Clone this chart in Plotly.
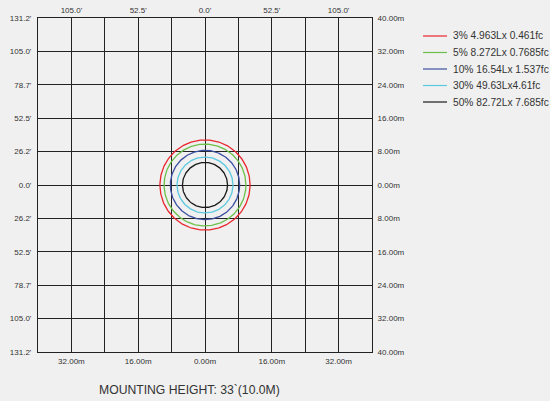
import numpy as np
import plotly.graph_objects as go

# Data
series_names = ["3% 4.963Lx 0.461fc", "5% 8.272Lx 0.7685fc", "10% 16.54Lx 1.537fc",
                "30% 49.63Lx4.61fc", "50% 82.72Lx 7.685fc"]
series_radius_m = [10.8, 9.8, 8.3, 6.7, 5.4]
series_colors = ["#e8262c", "#6cc04a", "#3b4fa0", "#5cc8e0", "#1a1a1a"]

grid_vals = [-40, -32, -24, -16, -8, 0, 8, 16, 24, 32, 40]
x_bottom_text = ["", "32.00m", "", "16.00m", "", "0.00m", "", "16.00m", "", "32.00m", ""]
x_top_text = ["", "105.0'", "", "52.5'", "", "0.0'", "", "52.5'", "", "105.0'", ""]
y_left_text = ["131.2'", "105.0'", "78.7'", "52.5'", "26.2'", "0.0'", "26.2'", "52.5'", "78.7'", "105.0'", "131.2'"]
y_right_text = ["40.00m", "32.00m", "24.00m", "16.00m", "8.00m", "0.00m", "8.00m", "16.00m", "24.00m", "32.00m", "40.00m"]
title_text = "MOUNTING HEIGHT: 33`(10.0M)"

W, H = 550, 401
ML, MR, MT, MB = 38, 178, 18, 49
PW, PH = W - ML - MR, H - MT - MB


def px_x(px):
    return (px - ML) / PW


def px_y(py):
    return (H - MB - py) / PH


fig = go.Figure()
t = np.linspace(0, 2 * np.pi, 241)
for name, r, c in zip(series_names, series_radius_m, series_colors):
    fig.add_trace(go.Scatter(x=r * np.cos(t), y=r * np.sin(t), mode="lines", name=name,
                             line=dict(color=c, width=1.3), hoverinfo="skip", showlegend=False))
# invisible trace to activate secondary axes
fig.add_trace(go.Scatter(x=[0], y=[0], xaxis="x2", yaxis="y2", mode="markers",
                         marker=dict(opacity=0), showlegend=False, hoverinfo="skip"))

# manual legend
shapes, annotations = [], []
row_y0, row_dy = 36, 16.5
for i, (name, c) in enumerate(zip(series_names, series_colors)):
    yy = px_y(row_y0 + i * row_dy)
    shapes.append(dict(type="line", xref="paper", yref="paper", x0=px_x(423), x1=px_x(447),
                       y0=yy, y1=yy, line=dict(color=c, width=1.2)))
    annotations.append(dict(text=name, x=px_x(450.5), y=yy, xref="paper", yref="paper",
                            xanchor="left", yanchor="middle", showarrow=False,
                            font=dict(family="Liberation Sans, Arial", size=10.2, color="#333333")))

annotations.append(dict(text=title_text, x=px_x(189), y=px_y(390), xref="paper", yref="paper",
                        xanchor="center", yanchor="middle", showarrow=False,
                        font=dict(family="Liberation Sans, Arial", size=12.2, color="#333333")))

tick_font = dict(family="Liberation Sans, Arial", size=8, color="#333333")
axis_common = dict(range=[-40, 40], tickmode="array", tickvals=grid_vals, showgrid=True,
                   gridcolor="#222222", gridwidth=1, zeroline=False, showline=True,
                   linecolor="#222222", linewidth=1, ticks="", tickfont=tick_font,
                   fixedrange=True, automargin=False)

fig.update_layout(
    width=W, height=H,
    margin=dict(l=ML, r=MR, t=MT, b=MB, autoexpand=False),
    paper_bgcolor="#f0f0f0", plot_bgcolor="#f0f0f0",
    xaxis=dict(axis_common, ticktext=x_bottom_text, side="bottom", ticklabelstandoff=1),
    xaxis2=dict(axis_common, ticktext=x_top_text, side="top", overlaying="x", showgrid=False,
                ticklabelstandoff=1),
    yaxis=dict(axis_common, ticktext=y_left_text, side="left", ticklabelstandoff=4),
    yaxis2=dict(axis_common, ticktext=y_right_text, side="right", overlaying="y", showgrid=False,
                ticklabelstandoff=3),
    showlegend=False,
    shapes=shapes,
    annotations=annotations,
)

fig.write_html("out.html", config={"displayModeBar": False},
               post_script="document.body.style.margin='0';document.body.style.background='#f0f0f0';")
